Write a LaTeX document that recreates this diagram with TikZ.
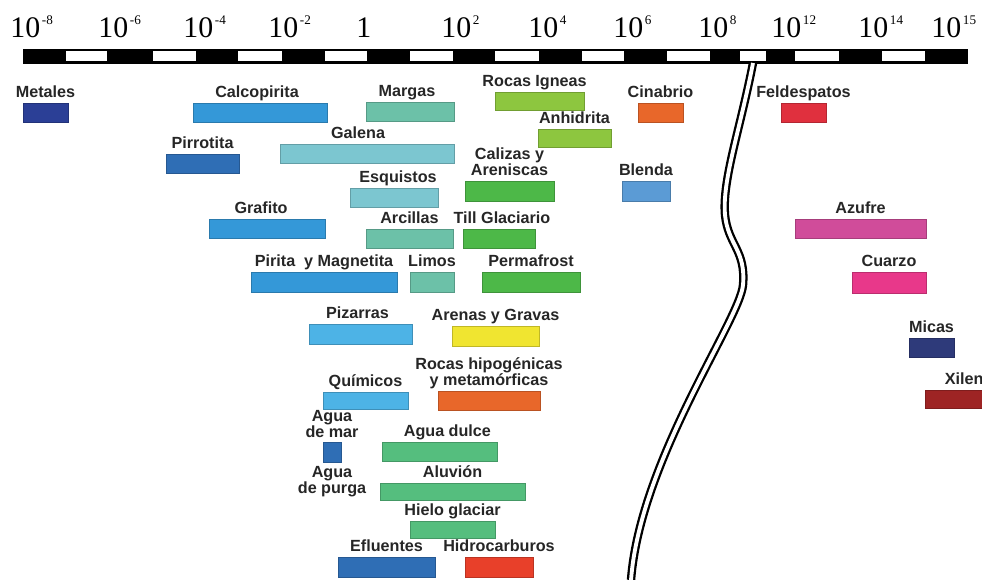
\documentclass[tikz,border=0pt]{standalone}
\usepackage{fontspec}
\setmainfont{Liberation Sans}
\newfontfamily\axisfont{Liberation Serif}
\usetikzlibrary{positioning}

\definecolor{labC}{HTML}{262626}
\definecolor{navyC}{HTML}{2B3F96}
\definecolor{blueC}{HTML}{3498D8}
\definecolor{dblueC}{HTML}{2F6EB5}
\definecolor{cyanC}{HTML}{7CC6D0}
\definecolor{tealC}{HTML}{6CC1A8}
\definecolor{limeC}{HTML}{8DC63F}
\definecolor{greenC}{HTML}{4DB848}
\definecolor{orangeC}{HTML}{E8672A}
\definecolor{skyC}{HTML}{5B9BD5}
\definecolor{redC}{HTML}{E0303E}
\definecolor{magC}{HTML}{D04C9A}
\definecolor{pinkC}{HTML}{E8388A}
\definecolor{indigoC}{HTML}{2E3A7A}
\definecolor{wineC}{HTML}{9E2424}
\definecolor{lblueC}{HTML}{4DB3E6}
\definecolor{yellowC}{HTML}{F0E530}
\definecolor{waterC}{HTML}{55BE7E}
\definecolor{fireC}{HTML}{E8402A}

\newcommand\tenexp[1]{\kern1pt\raisebox{7.4pt}{\fontsize{7.5}{7.5}\selectfont #1}}

\tikzset{
    bar/.style 2 args = {draw = #1!80!black, fill = #1, line width = 0.4pt, inner sep = 0pt,
        minimum width = #2*0.02cm, minimum height = 19*0.02cm},
    lab/.style = {font = \bfseries\fontsize{9.2}{9}\selectfont, text = labC, inner sep = 0pt,
        text depth = 0pt, align = center},
    tick/.style = {font = \axisfont\fontsize{17}{17}\selectfont, inner sep = 0pt, anchor = base west},
    brk/.style = {line width = 1.3pt, double = white, double distance = 2.2pt}
}

\begin{document}
\begin{tikzpicture}[x = 0.02cm, y = -0.02cm]
        \useasboundingbox (0,0) rectangle (982,580);

        \fill[black] (23,49) rectangle (968,64);
        \fill[white] (66,51.5) rectangle (107,61.5);
        \fill[white] (153,51.5) rectangle (196,61.5);
        \fill[white] (238,51.5) rectangle (282,61.5);
        \fill[white] (325,51.5) rectangle (367,61.5);
        \fill[white] (410,51.5) rectangle (453,61.5);
        \fill[white] (495,51.5) rectangle (539,61.5);
        \fill[white] (582,51.5) rectangle (624,61.5);
        \fill[white] (667,51.5) rectangle (710,61.5);
        \fill[white] (740,51.5) rectangle (766,61.5);
        \fill[white] (795,51.5) rectangle (839,61.5);
        \fill[white] (882,51.5) rectangle (925,61.5);

        \node[tick] (t1) at (10,38) {10\tenexp{-8}};
        \node[tick] (t2) at (98,38) {10\tenexp{-6}};
        \node[tick] (t3) at (183,38) {10\tenexp{-4}};
        \node[tick] (t4) at (268,38) {10\tenexp{-2}};
        \node[tick] (t5) at (356,38) {1};
        \node[tick] (t6) at (441,38) {10\tenexp{2}};
        \node[tick] (t7) at (528,38) {10\tenexp{4}};
        \node[tick] (t8) at (613,38) {10\tenexp{6}};
        \node[tick] (t9) at (698,38) {10\tenexp{8}};
        \node[tick] (t10) at (771,38) {10\tenexp{12}};
        \node[tick] (t11) at (858,38) {10\tenexp{14}};
        \node[tick] (t12) at (931,38) {10\tenexp{15}};

        \node[bar = {navyC}{45}] (met) at (45.5,112.5) {};
        \node[bar = {blueC}{134}] (cal) at (260,112.5) {};
        \node[bar = {tealC}{88}] (mar) at (410,111.5) {};
        \node[bar = {limeC}{89}, minimum height = 18*0.02cm] (ign) at (539.5,101) {};
        \node[bar = {orangeC}{45}] (cin) at (660.5,112.5) {};
        \node[bar = {redC}{45}] (fel) at (803.5,112.5) {};
        \node[bar = {limeC}{73}, minimum height = 18*0.02cm] (anh) at (574.5,138.5) {};
        \node[bar = {dblueC}{73}] (pir) at (202.5,164) {};
        \node[bar = {cyanC}{174}] (gal) at (367,153.5) {};
        \node[bar = {greenC}{89}, minimum height = 20*0.02cm] (cali) at (509.5,191) {};
        \node[bar = {skyC}{48}, minimum height = 20*0.02cm] (ble) at (646,191) {};
        \node[bar = {cyanC}{88}] (esq) at (394,198) {};
        \node[bar = {blueC}{116}] (gra) at (267,228.5) {};
        \node[bar = {tealC}{87}] (arc) at (409.5,239) {};
        \node[bar = {greenC}{72}] (til) at (499,239) {};
        \node[bar = {magC}{131}] (azu) at (860.5,228.5) {};
        \node[bar = {blueC}{146}, minimum height = 20*0.02cm] (pim) at (324,282) {};
        \node[bar = {tealC}{44}, minimum height = 20*0.02cm] (lim) at (432,282) {};
        \node[bar = {greenC}{98}, minimum height = 20*0.02cm] (per) at (531,282) {};
        \node[bar = {pinkC}{74}, minimum height = 21*0.02cm] (cua) at (889,282.5) {};
        \node[bar = {lblueC}{103}, minimum height = 20*0.02cm] (piz) at (360.5,334) {};
        \node[bar = {yellowC}{87}, minimum height = 20*0.02cm] (are) at (495.5,336) {};
        \node[bar = {indigoC}{45}] (mic) at (931.5,347.5) {};
        \node[bar = {lblueC}{85}, minimum height = 17*0.02cm] (qui) at (365.5,400.5) {};
        \node[bar = {orangeC}{102}] (hip) at (489,400.5) {};
        \node[bar = {wineC}{57}, minimum height = 18*0.02cm] (xil) at (953.5,399) {};
        \node[bar = {dblueC}{18}, minimum height = 20*0.02cm] (amar) at (332,452) {};
        \node[bar = {waterC}{115}] (dul) at (439.5,451.5) {};
        \node[bar = {waterC}{145}, minimum height = 17*0.02cm] (alu) at (452.5,492) {};
        \node[bar = {waterC}{85}, minimum height = 17*0.02cm] (hie) at (452.5,530) {};
        \node[bar = {dblueC}{97}, minimum height = 20*0.02cm] (efl) at (386.5,567) {};
        \node[bar = {fireC}{68}, minimum height = 20*0.02cm] (hid) at (499,567) {};

        \node[lab, above = 3pt of met] (metl) {Metales};
        \node[lab, above = 3pt of cal, xshift = -1.7pt] (call) {Calcopirita};
        \node[lab, above = 3pt of mar, xshift = -1.7pt] (marl) {Margas};
        \node[lab, above = 3pt of ign, xshift = -2.8pt] (ignl) {Rocas Igneas};
        \node[lab, above = 3pt of cin] (cinl) {Cinabrio};
        \node[lab, above = 3pt of fel] (fell) {Feldespatos};
        \node[lab, above = 3pt of anh] (anhl) {Anhidrita};
        \node[lab, above = 3pt of pir] (pirl) {Pirrotita};
        \node[lab, above = 3pt of gal, xshift = -5.1pt] (gall) {Galena};
        \node[lab, above = 3pt of cali] (calil) {Calizas y\\Areniscas};
        \node[lab, above = 3pt of ble] (blel) {Blenda};
        \node[lab, above = 3pt of esq, xshift = 2.3pt] (esql) {Esquistos};
        \node[lab, above = 3pt of gra, xshift = -3.4pt] (gral) {Grafito};
        \node[lab, above = 3pt of arc] (arcl) {Arcillas};
        \node[lab, above = 3pt of til, xshift = 1.7pt] (till) {Till Glaciario};
        \node[lab, above = 3pt of azu] (azul) {Azufre};
        \node[lab, above = 3pt of pim] (piml) {Pirita\ \ y Magnetita};
        \node[lab, above = 3pt of lim] (liml) {Limos};
        \node[lab, above = 3pt of per] (perl) {Permafrost};
        \node[lab, above = 3pt of cua] (cual) {Cuarzo};
        \node[lab, above = 3pt of piz, xshift = -1.7pt] (pizl) {Pizarras};
        \node[lab, above = 3pt of are] (arel) {Arenas y Gravas};
        \node[lab, above = 3pt of mic] (micl) {Micas};
        \node[lab, above = 3pt of qui] (quil) {Químicos};
        \node[lab, above = 3pt of hip] (hipl) {Rocas hipogénicas\\y metamórficas};
        \node[lab, above right = 3pt and 11.3pt of xil.north west] (xill) {Xilen};
        \node[lab, above = 2pt of amar] (amarl) {Agua\\de mar};
        \node[lab, below = 2pt of amar] (purl) {Agua\\de purga};
        \node[lab, above = 3pt of dul, xshift = 4.5pt] (dull) {Agua dulce};
        \node[lab, above = 3pt of alu] (alul) {Aluvión};
        \node[lab, above = 3pt of hie] (hiel) {Hielo glaciar};
        \node[lab, above = 3pt of efl] (efll) {Efluentes};
        \node[lab, above = 3pt of hid] (hidl) {Hidrocarburos};

        \draw[brk] (753,63) .. controls (740,130) and (722,180) .. (725,215)
                .. controls (728,245) and (746,250) .. (743,285)
                .. controls (740,320) and (640,460) .. (631,580);
\end{tikzpicture}
\end{document}
